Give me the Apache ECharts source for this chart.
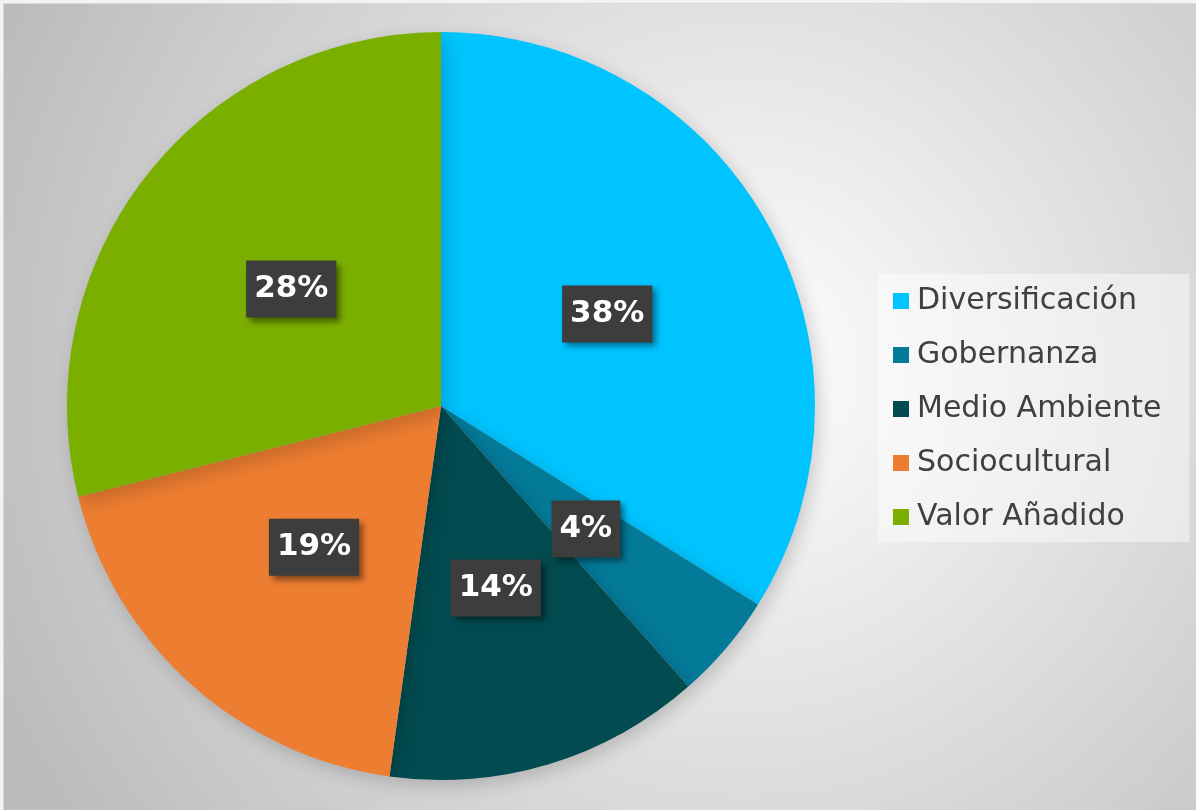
<meta charset="utf-8" />
<style>
html, body { margin: 0; background: #f3f3f3; }
#chart {
  position: absolute;
  left: 3px; top: 3px;
  width: 1193px; height: 807px;
  border-top: 1px solid #d8d8d8;
  border-left: 1px solid #d8d8d8;
  box-sizing: border-box;
}
</style>
<script src="https://cdn.jsdelivr.net/npm/echarts@6/dist/echarts.min.js"></script>
<div id="chart"></div>
<script>
// categories, slice sizes and the printed labels
const categories = ['Diversificación', 'Gobernanza', 'Medio Ambiente', 'Sociocultural', 'Valor Añadido'];
const values = [33.9, 4.6, 13.7, 18.9, 28.9];
const labelTexts = ['38%', '4%', '14%', '19%', '28%'];
const colors = ['#00C4FF', '#047A99', '#024B50', '#ED7D31', '#7AAF00'];

const chart = echarts.init(document.getElementById('chart'));
chart.setOption({
  backgroundColor: {
    type: 'radial', x: 0.62, y: 0.45, r: 1.0,
    colorStops: [
      { offset: 0, color: '#ffffff' },
      { offset: 1, color: '#bcbcbc' }
    ]
  },
  color: colors,
  legend: {
    orient: 'vertical',
    left: 874,
    top: 270,
    padding: [12, 28, 10, 15],
    backgroundColor: 'rgba(255,255,255,0.45)',
    icon: 'rect',
    itemWidth: 16,
    itemHeight: 16,
    itemGap: 24,
    textStyle: { fontFamily: 'DejaVu Sans', fontSize: 30, color: '#404040', padding: [0, 0, 0, 3] },
    data: categories
  },
  series: [{
    type: 'pie',
    center: [437, 402],
    radius: 374,
    startAngle: 90,
    clockwise: true,
    avoidLabelOverlap: false,
    itemStyle: {
      shadowBlur: 18,
      shadowOffsetX: 4,
      shadowOffsetY: 6,
      shadowColor: 'rgba(0,0,0,0.18)'
    },
    label: {
      show: true,
      position: 'inside',
      formatter: p => labelTexts[p.dataIndex],
      fontFamily: 'DejaVu Sans',
      fontWeight: 'bold',
      fontSize: 31,
      color: '#ffffff',
      backgroundColor: '#3d3d3d',
      padding: [14, 8, 12, 8],
      shadowBlur: 6,
      shadowOffsetX: 4,
      shadowOffsetY: 4,
      shadowColor: 'rgba(0,0,0,0.45)'
    },
    labelLine: { show: false },
    emphasis: { disabled: true },
    data: categories.map((name, i) => ({ name, value: values[i] }))
  }]
});
</script>
